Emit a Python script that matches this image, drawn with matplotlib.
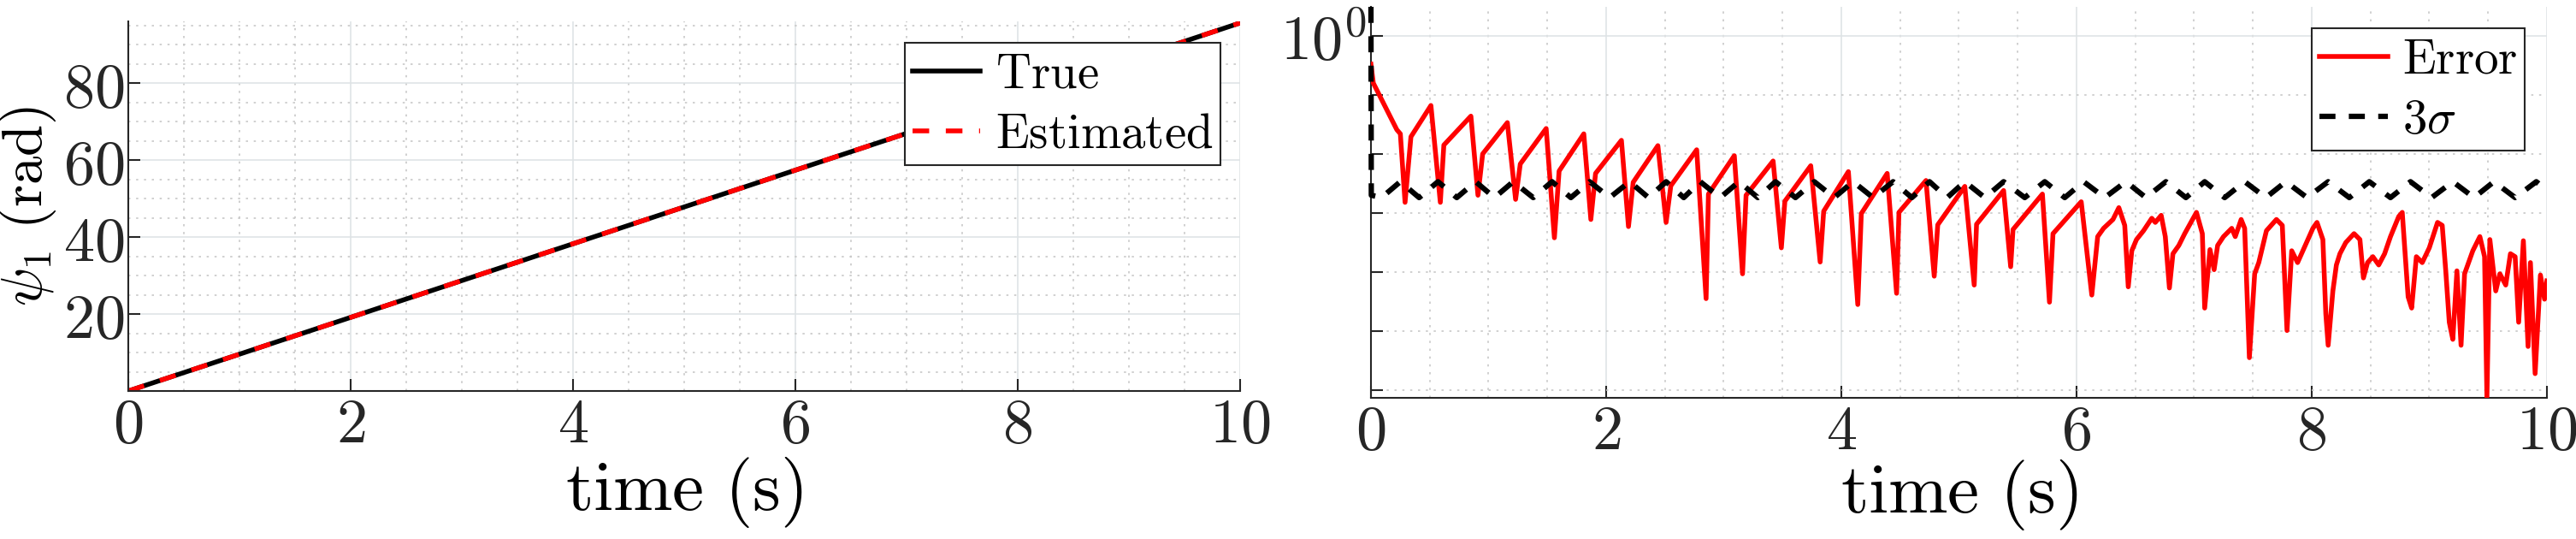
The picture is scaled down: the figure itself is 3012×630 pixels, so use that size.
import numpy as np
import matplotlib
matplotlib.use("Agg")
import matplotlib.pyplot as plt
from matplotlib.ticker import FixedLocator, NullFormatter, MultipleLocator

plt.rcParams["mathtext.fontset"] = "cm"
plt.rcParams["font.family"] = "serif"
plt.rcParams["font.serif"] = ["DejaVu Serif"]

# Left panel: heading angle, true vs estimated
psi_t = [0.0, 10.0]
psi_true = [0.0, 95.6]
psi_est = [0.0, 95.6]

# Right panel: error (log10 values)
err_t = [0.00, 0.02, 0.22, 0.25, 0.29, 0.34, 0.51, 0.59, 0.62, 0.85, 0.91, 0.95,
         1.16, 1.23, 1.27, 1.49, 1.56, 1.60, 1.81, 1.87, 1.91, 2.13, 2.19, 2.23,
         2.44, 2.51, 2.55, 2.77, 2.85, 2.87, 3.09, 3.16, 3.19, 3.42, 3.49, 3.52,
         3.74, 3.82, 3.85, 4.06, 4.14, 4.17, 4.39, 4.47, 4.49, 4.72, 4.79, 4.82,
         5.05, 5.13, 5.15, 5.38, 5.44, 5.46, 5.71, 5.77, 5.80, 6.04, 6.13,
         6.18, 6.23, 6.31, 6.36, 6.41, 6.44, 6.47, 6.51, 6.57, 6.64, 6.67, 6.72,
         6.755, 6.79, 6.82, 6.87, 6.92, 7.02, 7.07, 7.09, 7.135, 7.17, 7.20, 7.25,
         7.32, 7.35, 7.40, 7.43, 7.47, 7.515, 7.55, 7.615, 7.70, 7.75, 7.79, 7.83,
         7.88, 7.945, 8.01, 8.045, 8.095, 8.12, 8.14, 8.18, 8.21, 8.24, 8.29, 8.36,
         8.41, 8.44, 8.475, 8.52, 8.57, 8.62, 8.67, 8.74, 8.77, 8.82, 8.85, 8.89,
         8.94, 9.00, 9.07, 9.11, 9.14, 9.17, 9.20, 9.235, 9.27, 9.30, 9.37, 9.43,
         9.47, 9.49, 9.515, 9.565, 9.60, 9.65, 9.69, 9.73, 9.76, 9.80, 9.84, 9.86,
         9.90, 9.945, 9.98, 10.0]
err_log = [-0.48, -0.80, -1.59, -1.66, -2.82, -1.71, -1.18, -2.82, -1.85, -1.36, -2.70, -2.00,
           -1.47, -2.77, -2.17, -1.57, -3.42, -2.29, -1.66, -3.11, -2.33, -1.77, -3.23, -2.48,
           -1.86, -3.16, -2.54, -1.93, -4.45, -2.68, -2.03, -4.03, -2.70, -2.12, -3.59, -2.80,
           -2.20, -3.83, -2.97, -2.30, -4.55, -3.01, -2.33, -4.36, -2.99, -2.45, -4.07, -3.20,
           -2.55, -4.22, -3.19, -2.62, -3.91, -3.28, -2.68, -4.51, -3.35, -2.81, -4.39,
           -3.40, -3.26, -3.11, -2.91, -3.21, -4.25, -3.64, -3.45, -3.30, -3.09, -3.16, -3.04,
           -3.40, -4.27, -3.69, -3.55, -3.35, -2.99, -3.35, -4.61, -3.62, -3.96, -3.55, -3.40,
           -3.26, -3.40, -3.11, -3.26, -5.45, -4.03, -3.84, -3.30, -3.11, -3.21, -4.99, -3.64,
           -3.84, -3.55, -3.26, -3.16, -3.45, -4.71, -5.24, -4.32, -3.88, -3.69, -3.50, -3.35,
           -3.45, -4.10, -3.84, -3.74, -3.88, -3.69, -3.40, -3.06, -2.99, -4.42, -4.61, -3.74,
           -3.84, -3.59, -3.16, -3.21, -3.98, -4.85, -5.14, -3.98, -5.24, -4.03, -3.64, -3.40,
           -3.74, -6.13, -3.45, -4.32, -4.03, -4.22, -3.69, -3.74, -4.85, -3.47, -5.26, -3.84,
           -5.72, -4.05, -4.46, -4.15]

# 3-sigma bound: peak times, trough times and levels (log10)
sig_peak_t = [0.25, 0.57, 0.89, 1.21, 1.54, 1.86, 2.20, 2.51, 2.80, 3.13, 3.44, 3.77,
              4.10, 4.44, 4.75, 5.05, 5.38, 5.73, 6.06, 6.42, 6.76, 7.09, 7.43, 7.78,
              8.14, 8.49, 8.84, 9.20, 9.55, 9.91]
sig_trough_t = [0.09, 0.41, 0.73, 1.05, 1.38, 1.70, 2.03, 2.36, 2.66, 2.97, 3.29, 3.61,
                3.94, 4.27, 4.60, 4.90, 5.22, 5.56, 5.90, 6.24, 6.59, 6.93, 7.26, 7.61,
                7.96, 8.32, 8.67, 9.02, 9.38, 9.73]
sig_peak = -2.47
sig_trough = -2.74
sig_start = [0.49, -2.70]

sig_t = [0.0, 0.003]
sig_log = list(sig_start)
for tr, pk in zip(sig_trough_t, sig_peak_t):
    sig_t += [tr, pk]
    sig_log += [sig_trough, sig_peak]
sig_t.append(10.0)
sig_log.append(-2.62)

err = 10.0 ** np.array(err_log)
sig = 10.0 ** np.array(sig_log)

fig = plt.figure(figsize=(30.12, 6.30), dpi=100)
ax1 = fig.add_axes([0.0498, 0.2746, 0.4316, 0.6857])
ax2 = fig.add_axes([0.5322, 0.2619, 0.4565, 0.7254])

SPINE = "#262626"
TICK_FS = 52
LAB_FS = 60
LEG_FS = 41


def style(ax):
    for s in ["top", "right"]:
        ax.spines[s].set_visible(False)
    for s in ["left", "bottom"]:
        ax.spines[s].set_color(SPINE)
        ax.spines[s].set_linewidth(1.5)
    ax.tick_params(which="both", direction="in", colors=SPINE, labelsize=TICK_FS,
                   length=10, width=1.5)
    ax.tick_params(which="minor", length=0)
    ax.grid(which="major", color="#dfe4e6", lw=1.2, ls="-")
    ax.grid(which="minor", color="#c8c8c8", lw=1.2, ls=(0, (1.5, 4)))
    ax.set_axisbelow(True)


# Left panel
ax1.plot(psi_t, psi_true, color="black", lw=4, label=r"$\mathrm{True}$")
ax1.plot(psi_t, psi_est, color="red", lw=4, ls=(0, (3.5, 3.5)), label=r"$\mathrm{Estimated}$")
ax1.set_xlim(0, 10)
ax1.set_ylim(0, 96)
ax1.set_xticks([0, 2, 4, 6, 8, 10])
ax1.set_xticklabels([rf"${v}$" for v in [0, 2, 4, 6, 8, 10]])
ax1.set_yticks([20, 40, 60, 80])
ax1.set_yticklabels([rf"${v}$" for v in [20, 40, 60, 80]])
ax1.xaxis.set_minor_locator(MultipleLocator(0.5))
ax1.yaxis.set_minor_locator(MultipleLocator(5))
style(ax1)
ax1.set_xlabel(r"$\mathrm{time\ (s)}$", fontsize=LAB_FS, labelpad=0)
ax1.set_ylabel(r"$\psi_1\ \mathrm{(rad)}$", fontsize=TICK_FS - 4, labelpad=4)
leg1 = ax1.legend(loc="upper right", bbox_to_anchor=(0.982, 0.942), fontsize=LEG_FS,
                  frameon=True, fancybox=False, edgecolor=SPINE, framealpha=1,
                  handlelength=1.4, handletextpad=0.3, borderpad=0.15,
                  labelspacing=0.25, borderaxespad=0)
leg1.get_frame().set_linewidth(1.5)

# Right panel
ax2.plot(err_t, err, color="red", lw=4, label=r"$\mathrm{Error}$", zorder=3)
ax2.plot(sig_t, sig, color="black", lw=4.5, ls=(0, (3, 2.5)), label=r"$3\sigma$",
         zorder=4, clip_on=False)
ax2.set_yscale("log")
ax2.set_xlim(0, 10)
ax2.set_ylim(10 ** -6.13, 10 ** 0.49)
ax2.set_xticks([0, 2, 4, 6, 8, 10])
ax2.set_xticklabels([rf"${v}$" for v in [0, 2, 4, 6, 8, 10]])
ax2.yaxis.set_major_locator(FixedLocator([1.0]))
ax2.set_yticklabels([r"$10^0$"])
ax2.yaxis.set_minor_locator(FixedLocator([10.0 ** -k for k in range(1, 7)]))
ax2.yaxis.set_minor_formatter(NullFormatter())
ax2.xaxis.set_minor_locator(MultipleLocator(0.5))
style(ax2)
ax2.tick_params(axis="y", which="minor", length=10, width=1.5)
ax2.set_xlabel(r"$\mathrm{time\ (s)}$", fontsize=LAB_FS, labelpad=-4)
leg2 = ax2.legend(loc="upper right", bbox_to_anchor=(0.981, 0.945), fontsize=LEG_FS,
                  frameon=True, fancybox=False, edgecolor=SPINE, framealpha=1,
                  handlelength=1.4, handletextpad=0.3, borderpad=0.15,
                  labelspacing=0.25, borderaxespad=0)
leg2.get_frame().set_linewidth(1.5)

fig.savefig("out.png", dpi=100)
